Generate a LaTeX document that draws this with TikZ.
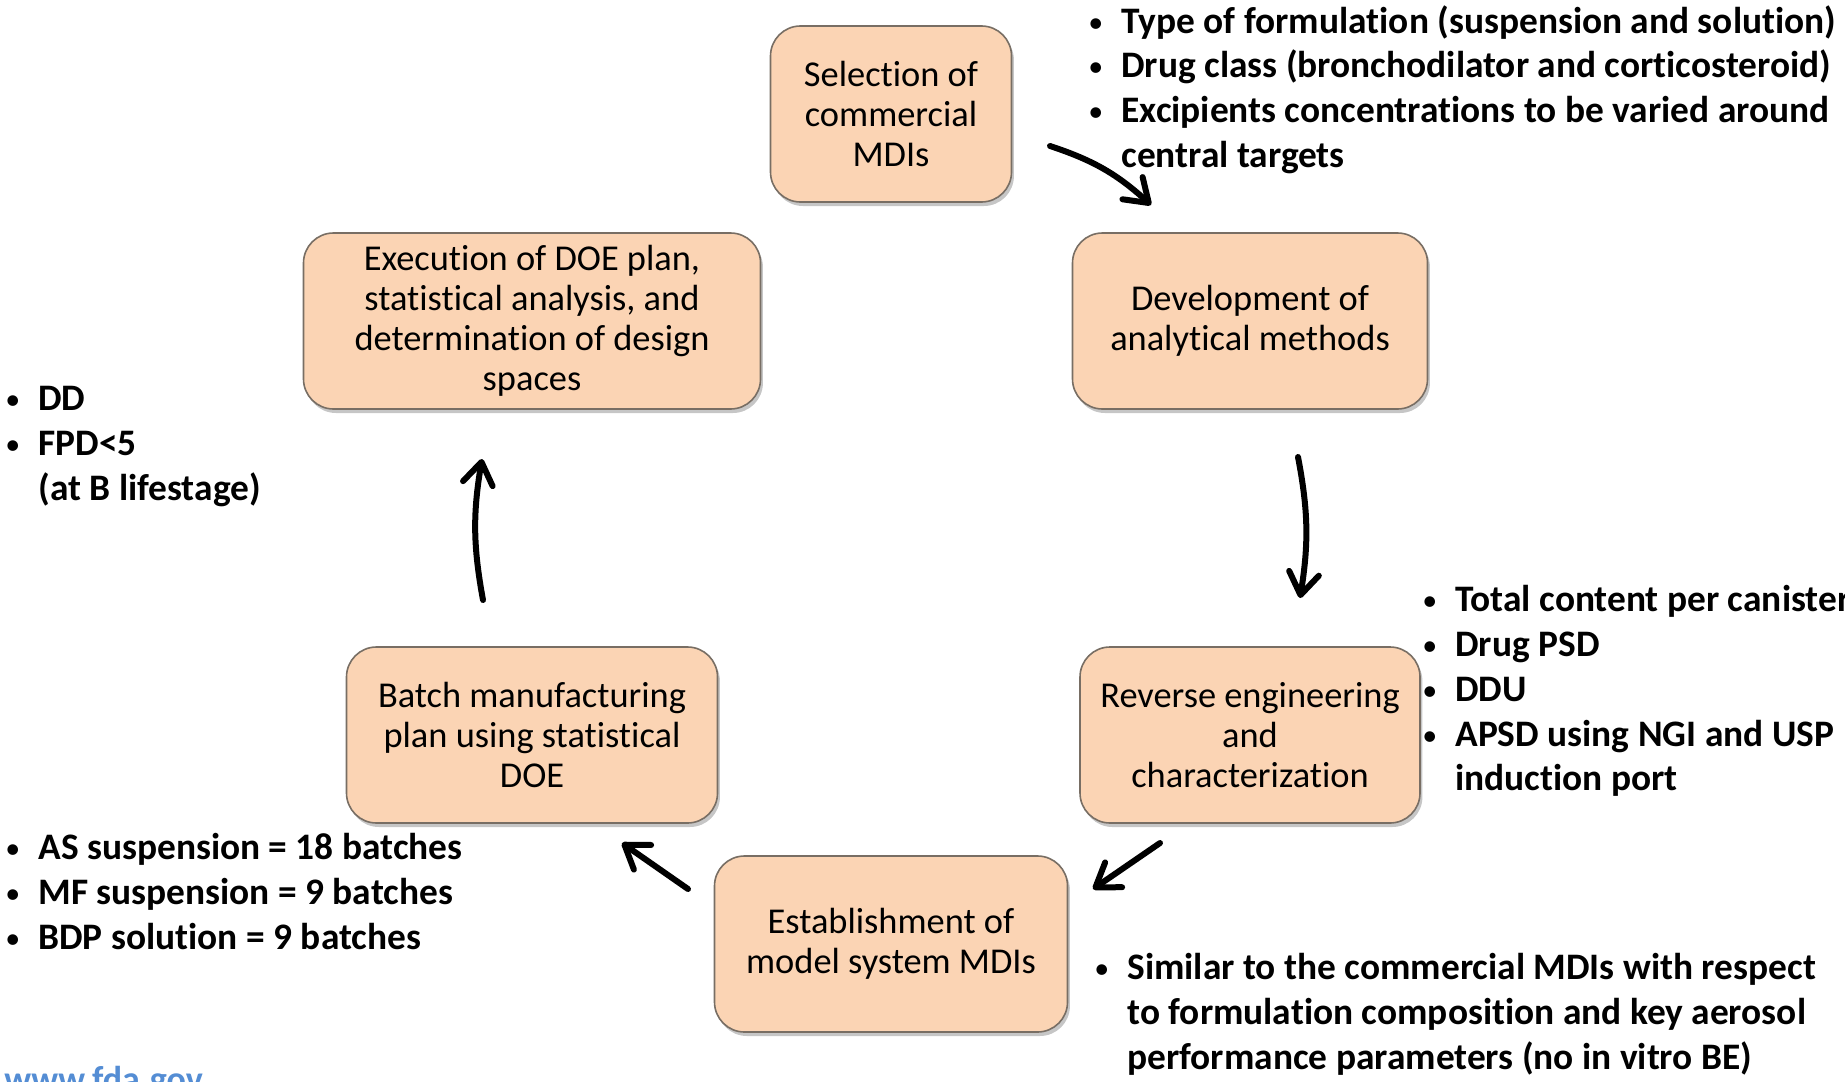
\documentclass[tikz,border=0pt]{standalone}
\usepackage{fontspec}
\setmainfont[Ligatures=NoCommon]{Carlito}
\usepackage{tikz}
\usetikzlibrary{positioning,arrows.meta,shadows}

\definecolor{peach}{RGB}{251,212,180}
\definecolor{boxline}{RGB}{120,110,100}
\definecolor{fdablue}{RGB}{84,141,212}

\newcommand{\bul}{\makebox[17pt][l]{\hspace*{0.5pt}\raisebox{0.5pt}{\mdseries\fontsize{15}{15}\selectfont\textbullet}}}
\newcommand{\cont}{\hspace*{17pt}}

\begin{document}
\begin{tikzpicture}[
      x=0.5pt, y=-0.5pt,
      stage/.style = {rectangle, rounded corners=15pt, draw=boxline, line width=0.8pt,
                      fill=peach, align=center, inner sep=2pt,
                      font=\fontsize{18.2}{20}\selectfont,
                      drop shadow={shadow xshift=1.2pt, shadow yshift=-2pt, opacity=0.45}},
      notes/.style = {anchor=north west, align=left, inner sep=0pt,
                      font=\fontsize{18.7}{22.4}\selectfont\bfseries},
      flow/.style  = {line width=3pt, line cap=round,
                      -{Straight Barb[length=11pt, width=15pt, round]}},
    ]
    \clip (0,0) rectangle (1845,1081);

    %% ------------------------------------------------ the six stages
    \node[stage, minimum width=120.5pt, minimum height=88pt] (sel) at (891, 114)
      {Selection of\\commercial\\MDIs};
    \node[stage, minimum width=177.5pt, minimum height=88pt] (dev) at (1250, 321)
      {Development of\\analytical methods};
    \node[stage, minimum width=170pt, minimum height=88pt] (rev) at (1250, 735)
      {Reverse engineering\\and\\characterization};
    \node[stage, minimum width=176.5pt, minimum height=88pt] (est) at (891, 944)
      {Establishment of\\model system MDIs};
    \node[stage, minimum width=185.5pt, minimum height=88pt] (bat) at (532, 735)
      {Batch manufacturing\\plan using statistical\\DOE};
    \node[stage, minimum width=228.5pt, minimum height=88pt] (exe) at (532, 321)
      {Execution of DOE plan,\\statistical analysis, and\\determination of design\\spaces};

    %% ------------------------------------------------ bullet notes
    \node[notes] (ntop) at (1087, 5)
      {\bul Type of formulation (suspension and solution)\\
       \bul Drug class (bronchodilator and corticosteroid)\\
       \bul Excipients concentrations to be varied around\\
       \cont central targets};
    \node[notes] (nleft) at (4, 386)
      {\bul DD\\
       \bul FPD<5\\
       \cont (at B lifestage)};
    \node[notes] (nright) at (1421, 585)
      {\bul Total content per canister\\
       \bul Drug PSD\\
       \bul DDU\\
       \bul APSD using NGI and USP\\
       \cont induction port};
    \node[notes] (nbatch) at (4, 833)
      {\bul AS suspension = 18 batches\\
       \bul MF suspension = 9 batches\\
       \bul BDP solution = 9 batches};
    \node[notes] (nmodel) at (1093, 953)
      {\bul Similar to the commercial MDIs with respect\\
       \cont to formulation composition and key aerosol\\
       \cont performance parameters (no in vitro BE)};

    %% ------------------------------------------------ cycle arrows
    \coordinate (s1) at (1050, 146);  \coordinate (e1) at (1151, 205);
    \coordinate (s2) at (1298, 457);  \coordinate (e2) at (1300, 598);
    \coordinate (s3) at (1160, 843);  \coordinate (e3) at (1093, 889);
    \coordinate (s4) at (688, 889);   \coordinate (e4) at (622, 843);
    \coordinate (s5) at (483, 600);   \coordinate (e5) at (482, 459);
    \draw[flow] (s1) to[bend left=12] (e1);
    \draw[flow] (s2) to[bend left=10] (e2);
    \draw[flow] (s3) -- (e3);
    \draw[flow] (s4) -- (e4);
    \draw[flow] (s5) to[bend left=10] (e5);

    \node[anchor=north west, inner sep=0pt, text=fdablue,
          font=\fontsize{18}{22}\selectfont\bfseries] (web) at (4, 1066) {www.fda.gov};
  \end{tikzpicture}
\end{document}
